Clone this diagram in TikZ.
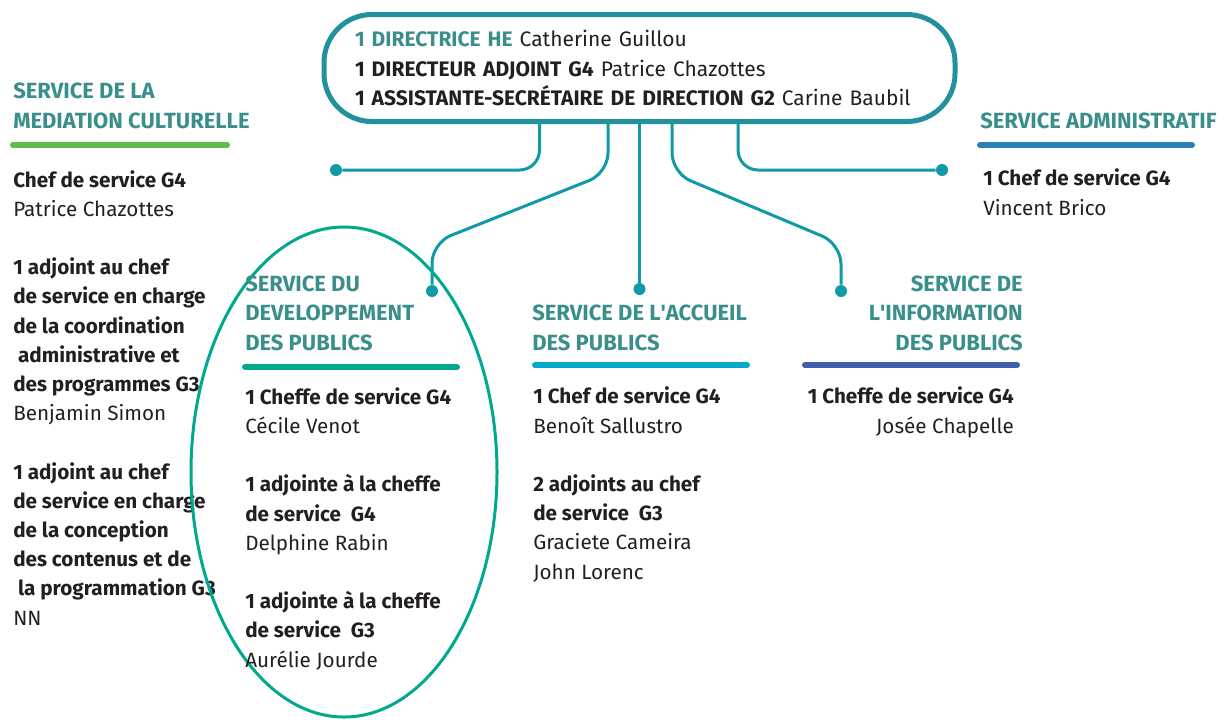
\documentclass[tikz,border=0pt]{standalone}
\usepackage{fontspec}
\setmainfont{Fira Sans}
\usetikzlibrary{calc}
\newlength\upx \setlength\upx{0.75pt}
\definecolor{boxteal}{RGB}{33,145,158}
\definecolor{lineteal}{RGB}{16,154,166}
\definecolor{headteal}{RGB}{58,142,140}
\definecolor{ink}{RGB}{35,31,32}
\definecolor{medgreen}{RGB}{98,187,70}
\definecolor{devgreen}{RGB}{0,168,142}
\definecolor{acccyan}{RGB}{0,170,200}
\definecolor{infoblue}{RGB}{65,94,170}
\definecolor{admblue}{RGB}{42,127,182}
\begin{document}
\begin{tikzpicture}[x=0.75pt,y=-0.75pt,
	every node/.style={font=\fontsize{15.5}{21.9}\selectfont, text=ink},
	head/.style={font=\fontsize{16.5}{21.9}\selectfont\bfseries, text=headteal, inner sep=0, align=left, anchor=base west},
	txt/.style={inner sep=0, align=left, anchor=base west},
	bar/.style={line width=6\upx, line cap=round},
	link/.style={draw=lineteal, line width=3\upx, rounded corners=20\upx},
	dot/.style={circle, fill=lineteal, minimum size=12\upx, inner sep=0}]
		
		\useasboundingbox (0,0) rectangle (1227,719);
		
		\node(dir) at (639.5,68)[draw=boxteal, line width=5\upx, rounded corners=48\upx, minimum height=107\upx, text width=569\upx, inner xsep=31\upx, inner ysep=0, align=left, font=\fontsize{15.75}{21.9}\selectfont]{\textcolor{headteal}{\textbf{1 DIRECTRICE HE}} Catherine Guillou\\\textbf{1 DIRECTEUR ADJOINT G4} Patrice Chazottes\\\textbf{1 ASSISTANTE-SECRÉTAIRE DE DIRECTION G2} Carine Baubil};
		
		\node(d1) at (336,170)[dot]{};
		\node(d2) at (432,291)[dot]{};
		\node(d3) at (639.5,289)[dot]{};
		\node(d4) at (841,291)[dot]{};
		\node(d5) at (942,170)[dot]{};
		\draw[link] ($(dir.south)+(-100,0)$) |- (d1);
		\draw[link] ($(dir.south)+(-31.5,0)$) -- ++(0,49) -- (432,243) -- (d2);
		\draw[link] (dir.south) -- (d3);
		\draw[link] ($(dir.south)+(32.5,0)$) -- ++(0,49) -- (841,244) -- (d4);
		\draw[link] ($(dir.south)+(98.5,0)$) |- (d5);
		
		% mediation culturelle
		\node(m1) at (13,128)[head]{SERVICE DE LA\\MEDIATION CULTURELLE};
		\draw[bar, medgreen] (13,145) -- (227,145);
		\node(m2) at (13,625)[txt]{\textbf{Chef de service G4}\\Patrice Chazottes\\ \\\textbf{1 adjoint au chef}\\\textbf{de service en charge}\\\textbf{de la coordination}\\\textbf{\ administrative et}\\\textbf{des programmes G3}\\Benjamin Simon\\ \\\textbf{1 adjoint au chef}\\\textbf{de service en charge}\\\textbf{de la conception}\\\textbf{des contenus et de}\\\textbf{\ la programmation G3}\\NN};
		
		% developpement des publics
		\draw[devgreen, line width=3\upx] (344,472) ellipse [x radius=153\upx, y radius=245\upx];
		\node(p1) at (245,350)[head]{SERVICE DU\\DEVELOPPEMENT\\DES PUBLICS};
		\draw[bar, devgreen] (245,367) -- (457,367);
		\node(p2) at (245,667)[txt]{\textbf{1 Cheffe de service G4}\\Cécile Venot\\ \\\textbf{1 adjointe à la cheffe}\\\textbf{de service~ G4}\\Delphine Rabin\\ \\\textbf{1 adjointe à la cheffe}\\\textbf{de service~ G3}\\Aurélie Jourde};
		
		% accueil des publics
		\node(a1) at (532,350)[head]{SERVICE DE L\textquotesingle ACCUEIL\\DES PUBLICS};
		\draw[bar, acccyan] (535,365) -- (747,365);
		\node(a2) at (533,579)[txt]{\textbf{1 Chef de service G4}\\Benoît Sallustro\\ \\\textbf{2 adjoints au chef}\\\textbf{de service~ G3}\\Graciete Cameira\\John Lorenc};
		
		% information des publics
		\node(i1) at (1023,350)[head, align=right, anchor=base east]{SERVICE DE\\L\textquotesingle INFORMATION\\DES PUBLICS};
		\draw[bar, infoblue] (805,365) -- (1017,365);
		\node(i2) at (1014,433)[txt, align=right, anchor=base east]{\textbf{1 Cheffe de service G4}\\Josée Chapelle};
		
		% administratif
		\node(s1) at (980,128)[head]{SERVICE ADMINISTRATIF};
		\draw[bar, admblue] (980,145) -- (1192,145);
		\node(s2) at (983,215)[txt]{\textbf{1 Chef de service G4}\\Vincent Brico};
		
	\end{tikzpicture}
\end{document}
